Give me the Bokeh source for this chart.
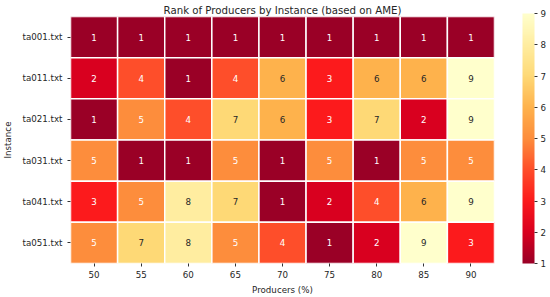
from bokeh.plotting import figure
from bokeh.models import ColumnDataSource, LinearColorMapper, ColorBar, FixedTicker
from bokeh.embed import file_html
from bokeh.resources import INLINE

instances = ["ta001.txt", "ta011.txt", "ta021.txt", "ta031.txt", "ta041.txt", "ta051.txt"]
producers = ["50", "55", "60", "65", "70", "75", "80", "85", "90"]
ranks = [
    [1, 1, 1, 1, 1, 1, 1, 1, 1],
    [2, 4, 1, 4, 6, 3, 6, 6, 9],
    [1, 5, 4, 7, 6, 3, 7, 2, 9],
    [5, 1, 1, 5, 1, 5, 1, 5, 5],
    [3, 5, 8, 7, 1, 2, 4, 6, 9],
    [5, 7, 8, 5, 4, 1, 2, 9, 3],
]

# reversed yellow-orange-red anchors, rank 1 .. rank 9
anchors = ["#9a0026", "#d9001f", "#fc1a1c", "#fe4e2a", "#fd8d3c",
           "#feb24c", "#fed976", "#ffeda0", "#ffffcc"]


def hex_to_rgb(h):
    return tuple(int(h[i:i + 2], 16) for i in (1, 3, 5))


def build_palette(cols, n=256):
    rgb = [hex_to_rgb(c) for c in cols]
    out = []
    for i in range(n):
        t = i / (n - 1) * (len(rgb) - 1)
        k = min(int(t), len(rgb) - 2)
        f = t - k
        c = [round(rgb[k][j] + (rgb[k + 1][j] - rgb[k][j]) * f) for j in range(3)]
        out.append("#%02x%02x%02x" % tuple(c))
    return out


xs, ys, vals, fills, labels, txtcol = [], [], [], [], [], []
for r, inst in enumerate(instances):
    for c, prod in enumerate(producers):
        v = ranks[r][c]
        xs.append(prod)
        ys.append(inst)
        vals.append(v)
        fills.append(anchors[v - 1])
        labels.append(str(v))
        txtcol.append("#ffffff" if v <= 5 else "#262626")

src = ColumnDataSource(dict(x=xs, y=ys, v=vals, fill=fills, label=labels, tc=txtcol))

FONT = "DejaVu Sans"
TICK_SIZE = "8.7px"

p = figure(
    width=550, height=297,
    x_range=producers, y_range=list(reversed(instances)),
    output_backend="svg", toolbar_location=None,
    min_border_left=63, min_border_right=56, min_border_top=16, min_border_bottom=31,
    title="Rank of Producers by Instance (based on AME)",
)
p.title.align = "center"
p.title.text_font = FONT
p.title.text_font_size = "10.2px"
p.title.text_font_style = "normal"
p.title.text_color = "#262626"
p.title.offset = 0
p.title.standoff = 2

p.rect(x="x", y="y", width=1, height=1, source=src,
       fill_color="fill", line_color="white", line_width=1.5)
p.text(x="x", y="y", text="label", source=src, text_color="tc",
       text_align="center", text_baseline="middle", text_font_size=TICK_SIZE,
       text_font={"value": FONT})

for ax in (p.xaxis[0], p.yaxis[0]):
    ax.axis_line_color = None
    ax.major_tick_in = 0
    ax.major_tick_out = 3
    ax.major_tick_line_color = "#333333"
    ax.major_label_text_font = FONT
    ax.major_label_text_font_size = TICK_SIZE
    ax.major_label_text_color = "#262626"
    ax.axis_label_text_font = FONT
    ax.axis_label_text_font_size = TICK_SIZE
    ax.axis_label_text_font_style = "normal"
    ax.axis_label_text_color = "#262626"
    ax.minor_tick_line_color = None

p.xaxis.axis_label = "Producers (%)"
p.yaxis.axis_label = "Instance"
p.xaxis.major_label_standoff = 4
p.yaxis.major_label_standoff = 5
p.xaxis.axis_label_standoff = 4
p.yaxis.axis_label_standoff = 6

p.xgrid.grid_line_color = None
p.ygrid.grid_line_color = None
p.outline_line_color = None
p.x_range.range_padding = 0
p.y_range.range_padding = 0

mapper = LinearColorMapper(palette=build_palette(anchors), low=1, high=9)
cb = ColorBar(
    color_mapper=mapper, ticker=FixedTicker(ticks=list(range(1, 10))),
    width=12, height=250, margin=0, padding=0,
    major_tick_in=0, major_tick_out=3, major_tick_line_color="#333333",
    major_label_text_font=FONT, major_label_text_font_size=TICK_SIZE,
    major_label_text_color="#262626", label_standoff=3,
    bar_line_color=None, border_line_color=None, location=(28, 0),
)
p.add_layout(cb, "right")

open("out.html", "w").write(file_html(p, INLINE))
